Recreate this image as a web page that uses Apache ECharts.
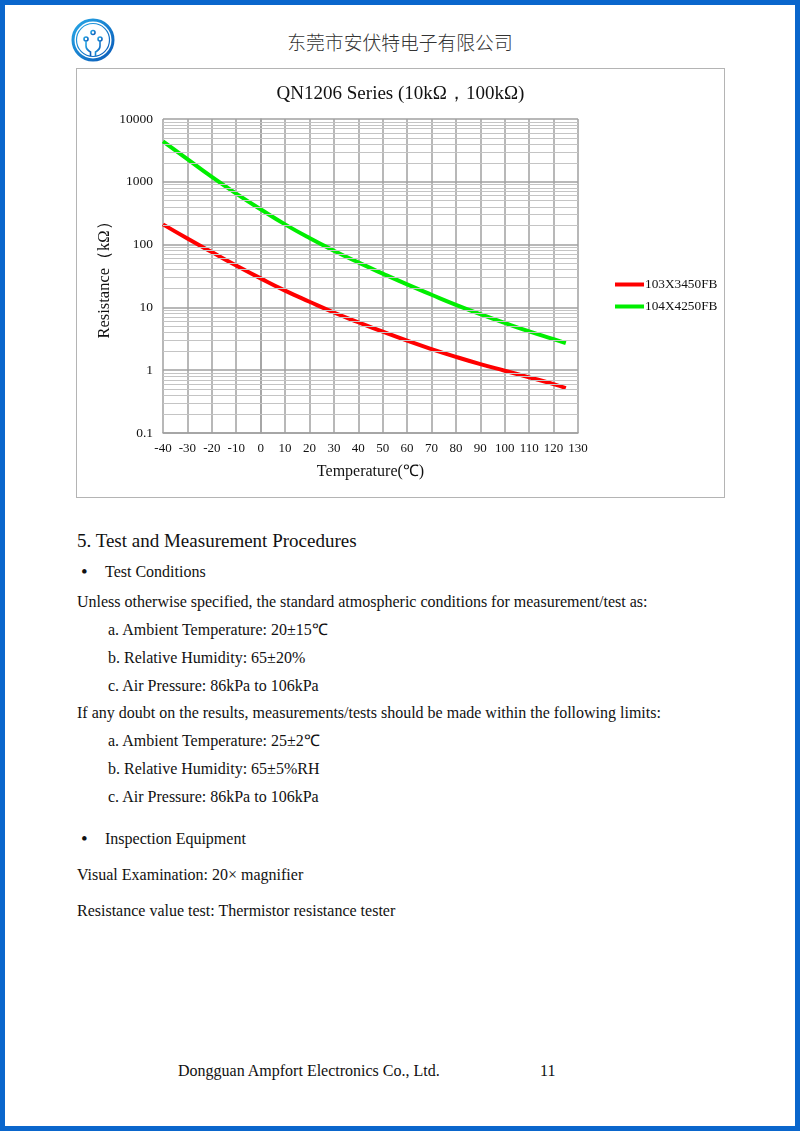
<!DOCTYPE html>
<html>
<head>
<meta charset="utf-8">
<script src="https://cdn.jsdelivr.net/npm/echarts@6/dist/echarts.min.js"></script>
<style>
  html, body { margin: 0; padding: 0; background: #fff; }
  #page { position: relative; width: 800px; height: 1131px; box-sizing: border-box; border: 5px solid #0a66cc; overflow: hidden; font-family: "Liberation Serif", "Times New Roman", serif; color: #111; }
  .t { position: absolute; white-space: nowrap; line-height: 1; }
  .b { font-size: 19px !important; }
  #chart { position: absolute; left: 76px; top: 68px; width: 649px; height: 430px; }
  #frame { position: absolute; left: 76px; top: 68px; width: 649px; height: 430px; box-sizing: border-box; border: 1.5px solid #b4b4b4; pointer-events: none; }
</style>
</head>
<body>
<div id="page">
  <svg style="position:absolute;left:0;top:0" width="140" height="70">
    <defs>
      <linearGradient id="lg" x1="0" y1="0" x2="1" y2="1">
        <stop offset="0" stop-color="#27a7e6"/>
        <stop offset="1" stop-color="#0a5ab8"/>
      </linearGradient>
    </defs>
    <circle cx="88" cy="35" r="20" fill="none" stroke="url(#lg)" stroke-width="3"/>
    <circle cx="88" cy="35" r="16.5" fill="none" stroke="url(#lg)" stroke-width="1.2"/>
    <g fill="none" stroke="url(#lg)" stroke-width="1.6">
      <circle cx="88" cy="27.5" r="2"/>
      <circle cx="81" cy="34" r="2"/>
      <circle cx="95" cy="34" r="2"/>
      <path d="M88 29.5 L88 51"/>
      <path d="M81 36 L81 41 Q81 44 84 46 L85.5 47 L85.5 51"/>
      <path d="M95 36 L95 41 Q95 44 92 46 L90.5 47 L90.5 51"/>
    </g>
  </svg>
  <div class="t" style="left:0;width:790px;text-align:center;top:28px;font-family:'Noto Sans CJK SC';font-size:18.8px;font-weight:300;color:#333;">东莞市安伏特电子有限公司</div>

  <div class="t" style="left:72px;top:526px;font-size:19px;">5. Test and Measurement Procedures</div>
  <div class="t b" style="left:76px;top:557px;">•</div>
  <div class="t" style="left:100px;top:559px;font-size:16px;">Test Conditions</div>
  <div class="t" style="left:72px;top:589px;font-size:16px;">Unless otherwise specified, the standard atmospheric conditions for measurement/test as:</div>
  <div class="t" style="left:103px;top:617px;font-size:16px;">a. Ambient Temperature: 20±15℃</div>
  <div class="t" style="left:103px;top:645px;font-size:16px;">b. Relative Humidity: 65±20%</div>
  <div class="t" style="left:103px;top:673px;font-size:16px;">c. Air Pressure: 86kPa to 106kPa</div>
  <div class="t" style="left:72px;top:700px;font-size:16px;">If any doubt on the results, measurements/tests should be made within the following limits:</div>
  <div class="t" style="left:103px;top:728px;font-size:16px;">a. Ambient Temperature: 25±2℃</div>
  <div class="t" style="left:103px;top:756px;font-size:16px;">b. Relative Humidity: 65±5%RH</div>
  <div class="t" style="left:103px;top:784px;font-size:16px;">c. Air Pressure: 86kPa to 106kPa</div>
  <div class="t b" style="left:76px;top:824px;">•</div>
  <div class="t" style="left:100px;top:826px;font-size:16px;">Inspection Equipment</div>
  <div class="t" style="left:72px;top:862px;font-size:16px;">Visual Examination: 20× magnifier</div>
  <div class="t" style="left:72px;top:898px;font-size:16px;">Resistance value test: Thermistor resistance tester</div>
  <div class="t" style="left:173px;top:1058px;font-size:16px;">Dongguan Ampfort Electronics Co., Ltd.</div>
  <div class="t" style="left:535px;top:1058px;font-size:16px;">11</div>
</div>
<div id="chart"></div>
<div id="frame"></div>
<script>
// ---- data ----
var chartTitle = 'QN1206 Series (10kΩ，100kΩ)';
var xName = 'Temperature(℃)';
var yName = 'Resistance（kΩ）';
var temps = [-40, -30, -20, -10, 0, 10, 20, 30, 40, 50, 60, 70, 80, 90, 100, 110, 120, 125];
var seriesNames = ['103X3450FB', '104X4250FB'];
var r103 = [210, 125, 76, 46.5, 29, 18.5, 12.3, 8.3, 5.8, 4.1, 2.95, 2.17, 1.63, 1.25, 0.98, 0.77, 0.6, 0.52];
var r104 = [4400, 2300, 1200, 650, 365, 210, 127, 80, 52, 34.5, 23.2, 15.9, 11.0, 7.8, 5.65, 4.15, 3.12, 2.7];
var minorGridValues = [0.2,0.3,0.4,0.5,0.6,0.7,0.8,0.9, 2,3,4,5,6,7,8,9, 20,30,40,50,60,70,80,90, 200,300,400,500,600,700,800,900, 2000,3000,4000,5000,6000,7000,8000,9000];

var serif = 'Liberation Serif';
var chart = echarts.init(document.getElementById('chart'), null, {renderer: 'canvas'});
function pairs(xs, ys) { return xs.map(function (x, i) { return [x, ys[i]]; }); }

chart.setOption({
  animation: false,
  backgroundColor: '#fff',
  title: {
    text: chartTitle, left: 'center', top: 12,
    textStyle: { fontFamily: serif, fontSize: 19, fontWeight: 'normal', color: '#111' }
  },
  grid: { left: 87, top: 51, width: 415, height: 314 },
  legend: {
    orient: 'vertical', left: 534, top: 205,
    data: seriesNames, icon: 'rect', itemWidth: 29, itemHeight: 4, itemGap: 9,
    textStyle: { fontFamily: serif, fontSize: 13.3, color: '#111', padding: [0,0,0,-4] }
  },
  xAxis: {
    type: 'value', min: -40, max: 130, interval: 10,
    name: xName, nameLocation: 'middle', nameGap: 31, nameMoveOverlap: false,
    nameTextStyle: { fontFamily: serif, fontSize: 16, color: '#111' },
    axisLine: { show: true, lineStyle: { color: '#a0a0a0', width: 1.5 } },
    axisTick: { show: false },
    axisLabel: { fontFamily: serif, fontSize: 13, color: '#111', margin: 9 },
    splitLine: { show: true, lineStyle: { color: '#a0a0a0', width: 1.5 } }
  },
  yAxis: {
    type: 'log', logBase: 10, min: 0.1, max: 10000,
    name: yName, nameLocation: 'middle', nameGap: 50, nameMoveOverlap: false,
    nameTextStyle: { fontFamily: serif, fontSize: 16.5, color: '#111' },
    axisLine: { show: true, lineStyle: { color: '#a0a0a0', width: 1.5 } },
    axisTick: { show: false },
    axisLabel: {
      fontFamily: serif, fontSize: 13.5, color: '#111', margin: 10,
      formatter: function (v) { return v >= 1 ? Math.round(v).toString() : String(+v.toFixed(1)); }
    },
    splitLine: { show: true, lineStyle: { color: '#a0a0a0', width: 1.5 } }
  },
  series: [
    {
      name: 'minor', type: 'line', data: [], z: 1, silent: true,
      markLine: {
        silent: true, symbol: ['none', 'none'], label: { show: false },
        lineStyle: { color: '#c4c4c4', width: 1, type: 'solid' },
        emphasis: { disabled: true },
        data: minorGridValues.map(function (v) { return { yAxis: v }; })
      }
    },
    {
      name: seriesNames[0], type: 'line', smooth: true, showSymbol: false, z: 3,
      color: '#ff0000', lineStyle: { width: 4, color: '#ff0000' },
      data: pairs(temps, r103)
    },
    {
      name: seriesNames[1], type: 'line', smooth: true, showSymbol: false, z: 3,
      color: '#00ee00', lineStyle: { width: 4, color: '#00ee00' },
      data: pairs(temps, r104)
    }
  ]
});
</script>
</body>
</html>
